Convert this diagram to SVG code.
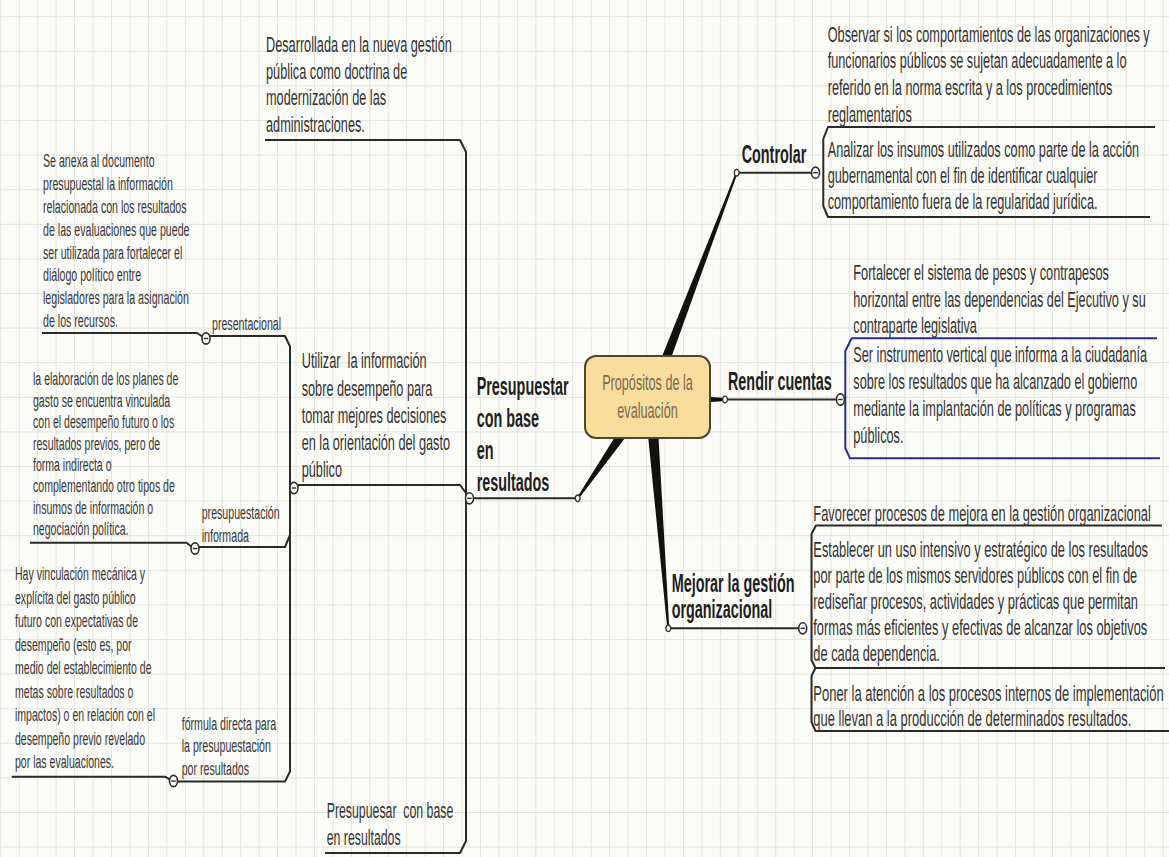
<svg xmlns="http://www.w3.org/2000/svg" xmlns:xlink="http://www.w3.org/1999/xlink" width="1169" height="857" viewBox="0 0 1169 857">
  <defs>
    <pattern id="grid" patternUnits="userSpaceOnUse" x="0.3" y="16.2" width="18.45" height="34.6">
      <path d="M0.5 0V34.6M0 0.5H18.45" fill="none" stroke="#e3e3dd" stroke-width="1"/>
    </pattern>
    <!-- collapse toggle (circle with minus) -->
    <g id="toggle">
      <ellipse cx="0" cy="0" rx="4" ry="5.6" fill="#fbfbf7" stroke="#2e2e2e" stroke-width="1.6"/>
      <line x1="-2.2" y1="0" x2="2.2" y2="0" stroke="#2e2e2e" stroke-width="1.4"/>
    </g>
    <!-- small open joint at the end of a main branch -->
    <g id="joint">
      <ellipse cx="0" cy="0" rx="2.4" ry="3.3" fill="#fbfbf7" stroke="#2e2e2e" stroke-width="1.3"/>
    </g>
  </defs>
  <style>
    .txt { font-family: "Liberation Sans", Arial, sans-serif; font-size: 22px; fill: #333333; }
    .sm { font-family: "Liberation Sans", Arial, sans-serif; font-size: 19px; fill: #383838; }
    .hd { font-family: "Liberation Sans", Arial, sans-serif; font-size: 25px; font-weight: bold; fill: #1f1f1f; }
    .ctr { font-family: "Liberation Sans", Arial, sans-serif; font-size: 22px; fill: #786a52; }
    .ln { fill: none; stroke: #2a2a2a; stroke-width: 2; stroke-linejoin: round; }
    .lnb { fill: none; stroke: #2d2d8c; stroke-width: 2; stroke-linejoin: round; }
    .br { fill: #111111; }
  </style>

  <!-- background with grid -->
  <rect x="0" y="0" width="1169" height="857" fill="#fbfbf8"/>
  <rect x="0" y="0" width="1169" height="857" fill="url(#grid)"/>

  <!-- connectors -->
  <g id="connectors">
    <!-- thick main branches from the central topic -->
    <polygon class="br" points="651.3,383.2 660.7,386.8 737.6,173.0 735.8,172.4"/>
    <polygon class="br" points="627.5,416.9 636.5,423.1 578.5,498.9 576.9,497.7"/>
    <polygon class="br" points="646.5,420.4 657.5,419.6 669.3,628.2 667.3,628.4"/>
    <polygon class="br" points="700,396.3 722,397.8 722,401.2 700,402.7"/>

    <!-- Presupuestar: underline and bracket of its children -->
    <path class="ln" d="M473.5,498.3 H577.7"/>
    <path class="ln" d="M265,140 H460 L466,152 V841 L460,853 H325"/>
    <path class="ln" d="M298,485 H460 L466,493"/>

    <!-- Utilizar: bracket of its children -->
    <path class="ln" d="M210,336 H285 L290,346.5 V771.5 L285,781.5 H177.5"/>
    <path class="ln" d="M199,547 H285 L290,535"/>

    <!-- leaf underlines on the left -->
    <path class="ln" d="M42,333 H197 L202.3,336.5"/>
    <path class="ln" d="M30,542.7 H186.5 L191.3,546.5"/>
    <path class="ln" d="M11.7,776.7 H165 L169.8,779.5"/>

    <!-- Controlar -->
    <path class="ln" d="M736.7,172.7 H811.5"/>
    <path class="ln" d="M1155,127 H828 L823.3,139 V206 L828,217 H1150"/>

    <!-- Rendir cuentas -->
    <path class="ln" d="M725,399.5 H836.5"/>
    <path class="lnb" d="M1157,338.3 H851.7 L845.3,351 V448 L850,458.3 H1160"/>

    <!-- Mejorar la gestión organizacional -->
    <path class="ln" d="M668.3,628.3 H798.7"/>
    <path class="ln" d="M1162,525.5 H816 L811.5,534 V660 L815.5,668 H1165"/>
    <path class="ln" d="M815.5,668 L811.5,676 V722 L815.5,731 H1169"/>

    <!-- joints and toggles -->
    <use xlink:href="#joint" transform="translate(577.7,498.3)"/>
    <use xlink:href="#joint" transform="translate(736.7,172.7)"/>
    <use xlink:href="#joint" transform="translate(725,399.5)"/>
    <use xlink:href="#joint" transform="translate(668.3,628.3)"/>
    <use xlink:href="#toggle" transform="translate(469.5,498.3)"/>
    <use xlink:href="#toggle" transform="translate(294,488)"/>
    <use xlink:href="#toggle" transform="translate(206,338.5)"/>
    <use xlink:href="#toggle" transform="translate(195,548.5)"/>
    <use xlink:href="#toggle" transform="translate(173.5,781)"/>
    <use xlink:href="#toggle" transform="translate(815.5,172.7)"/>
    <use xlink:href="#toggle" transform="translate(840.5,399.5)"/>
    <use xlink:href="#toggle" transform="translate(802.7,628.3)"/>
  </g>

  <!-- central topic -->
  <g id="central">
    <rect x="585" y="356" width="125" height="82" rx="11" fill="#f8dd9c" stroke="#4e4536" stroke-width="2"/>
    <g transform="translate(647.5,0) scale(0.575,1)">
      <text class="ctr" x="0" y="390" text-anchor="middle">Propósitos de la</text>
      <text class="ctr" x="0" y="418.3" text-anchor="middle">evaluación</text>
    </g>
  </g>

  <!-- right side -->
  <g id="controlar" transform="translate(741.7,0) scale(0.575,1)">
    <text class="hd" x="0" y="163.5">Controlar</text>
  </g>
  <g id="observar" transform="translate(827.7,0) scale(0.578,1)">
    <text class="txt" x="0" y="41.7">Observar si los comportamientos de las organizaciones y</text>
    <text class="txt" x="0" y="68.3">funcionarios públicos se sujetan adecuadamente a lo</text>
    <text class="txt" x="0" y="95">referido en la norma escrita y a los procedimientos</text>
    <text class="txt" x="0" y="121.7">reglamentarios</text>
  </g>
  <g id="analizar" transform="translate(827.7,0) scale(0.578,1)">
    <text class="txt" x="0" y="156.7">Analizar los insumos utilizados como parte de la acción</text>
    <text class="txt" x="0" y="183">gubernamental con el fin de identificar cualquier</text>
    <text class="txt" x="0" y="209.3">comportamiento fuera de la regularidad jurídica.</text>
  </g>

  <g id="rendir" transform="translate(728,0) scale(0.575,1)">
    <text class="hd" x="0" y="390">Rendir cuentas</text>
  </g>
  <g id="fortalecer" transform="translate(853.3,0) scale(0.578,1)">
    <text class="txt" x="0" y="280">Fortalecer el sistema de pesos y contrapesos</text>
    <text class="txt" x="0" y="306.7">horizontal entre las dependencias del Ejecutivo y su</text>
    <text class="txt" x="0" y="333.3">contraparte legislativa</text>
  </g>
  <g id="ser-instrumento" transform="translate(853.3,0) scale(0.578,1)">
    <text class="txt" x="0" y="362">Ser instrumento vertical que informa a la ciudadanía</text>
    <text class="txt" x="0" y="389">sobre los resultados que ha alcanzado el gobierno</text>
    <text class="txt" x="0" y="416">mediante la implantación de políticas y programas</text>
    <text class="txt" x="0" y="443">públicos.</text>
  </g>

  <g id="mejorar" transform="translate(671.7,0) scale(0.575,1)">
    <text class="hd" x="0" y="591.7">Mejorar la gestión</text>
    <text class="hd" x="0" y="618.5">organizacional</text>
  </g>
  <g id="favorecer" transform="translate(813.3,0) scale(0.585,1)">
    <text class="txt" x="0" y="521">Favorecer procesos de mejora en la gestión organizacional</text>
  </g>
  <g id="establecer" transform="translate(813.3,0) scale(0.585,1)">
    <text class="txt" x="0" y="557">Establecer un uso intensivo y estratégico de los resultados</text>
    <text class="txt" x="0" y="583">por parte de los mismos servidores públicos con el fin de</text>
    <text class="txt" x="0" y="609">rediseñar procesos, actividades y prácticas que permitan</text>
    <text class="txt" x="0" y="635">formas más eficientes y efectivas de alcanzar los objetivos</text>
    <text class="txt" x="0" y="661.5">de cada dependencia.</text>
  </g>
  <g id="poner" transform="translate(813.3,0) scale(0.59,1)">
    <text class="txt" x="0" y="701">Poner la atención a los procesos internos de implementación</text>
    <text class="txt" x="0" y="726">que llevan a la producción de determinados resultados.</text>
  </g>

  <!-- left side -->
  <g id="presupuestar" transform="translate(476.7,0) scale(0.575,1)">
    <text class="hd" x="0" y="395">Presupuestar</text>
    <text class="hd" x="0" y="427">con base</text>
    <text class="hd" x="0" y="459">en</text>
    <text class="hd" x="0" y="491">resultados</text>
  </g>
  <g id="desarrollada" transform="translate(266,0) scale(0.578,1)">
    <text class="txt" x="0" y="52">Desarrollada en la nueva gestión</text>
    <text class="txt" x="0" y="78.7">pública como doctrina de</text>
    <text class="txt" x="0" y="105.3">modernización de las</text>
    <text class="txt" x="0" y="132">administraciones.</text>
  </g>
  <g id="utilizar" transform="translate(301.7,0) scale(0.578,1)">
    <text class="txt" x="0" y="368.3" xml:space="preserve">Utilizar  la información</text>
    <text class="txt" x="0" y="396">sobre desempeño para</text>
    <text class="txt" x="0" y="423.3">tomar mejores decisiones</text>
    <text class="txt" x="0" y="450">en la orientación del gasto</text>
    <text class="txt" x="0" y="476.7">público</text>
  </g>
  <g id="presupuesar" transform="translate(326.7,0) scale(0.56,1)">
    <text class="txt" x="0" y="818.3" xml:space="preserve">Presupuesar  con base</text>
    <text class="txt" x="0" y="845">en resultados</text>
  </g>

  <g id="presentacional" transform="translate(212,0) scale(0.56,1)">
    <text class="sm" x="0" y="330">presentacional</text>
  </g>
  <g id="se-anexa" transform="translate(43,0) scale(0.56,1)">
    <text class="sm" x="0" y="167">Se anexa al documento</text>
    <text class="sm" x="0" y="189.9">presupuestal la información</text>
    <text class="sm" x="0" y="212.8">relacionada con los resultados</text>
    <text class="sm" x="0" y="235.7">de las evaluaciones que puede</text>
    <text class="sm" x="0" y="258.6">ser utilizada para fortalecer el</text>
    <text class="sm" x="0" y="281.5">diálogo político entre</text>
    <text class="sm" x="0" y="304.4">legisladores para la asignación</text>
    <text class="sm" x="0" y="327.3">de los recursos.</text>
  </g>

  <g id="informada" transform="translate(201.7,0) scale(0.56,1)">
    <text class="sm" x="0" y="519">presupuestación</text>
    <text class="sm" x="0" y="542">informada</text>
  </g>
  <g id="elaboracion" transform="translate(33,0) scale(0.555,1)">
    <text class="sm" x="0" y="385.5">la elaboración de los planes de</text>
    <text class="sm" x="0" y="406.9">gasto se encuentra vinculada</text>
    <text class="sm" x="0" y="428.2">con el desempeño futuro o los</text>
    <text class="sm" x="0" y="449.6">resultados previos, pero de</text>
    <text class="sm" x="0" y="470.9">forma indirecta o</text>
    <text class="sm" x="0" y="492.3">complementando otro tipos de</text>
    <text class="sm" x="0" y="513.6">insumos de información o</text>
    <text class="sm" x="0" y="535">negociación política.</text>
  </g>

  <g id="formula" transform="translate(181.7,0) scale(0.56,1)">
    <text class="sm" x="0" y="730.5">fórmula directa para</text>
    <text class="sm" x="0" y="752.5">la presupuestación</text>
    <text class="sm" x="0" y="775.5">por resultados</text>
  </g>
  <g id="hay-vinculacion" transform="translate(15,0) scale(0.555,1)">
    <text class="sm" x="0" y="580.5">Hay vinculación mecánica y</text>
    <text class="sm" x="0" y="603.9">explícita del gasto público</text>
    <text class="sm" x="0" y="627.4">futuro con expectativas de</text>
    <text class="sm" x="0" y="650.8">desempeño (esto es, por</text>
    <text class="sm" x="0" y="674.3">medio del establecimiento de</text>
    <text class="sm" x="0" y="697.7">metas sobre resultados o</text>
    <text class="sm" x="0" y="721.1">impactos) o en relación con el</text>
    <text class="sm" x="0" y="744.6">desempeño previo revelado</text>
    <text class="sm" x="0" y="768">por las evaluaciones.</text>
  </g>
</svg>
